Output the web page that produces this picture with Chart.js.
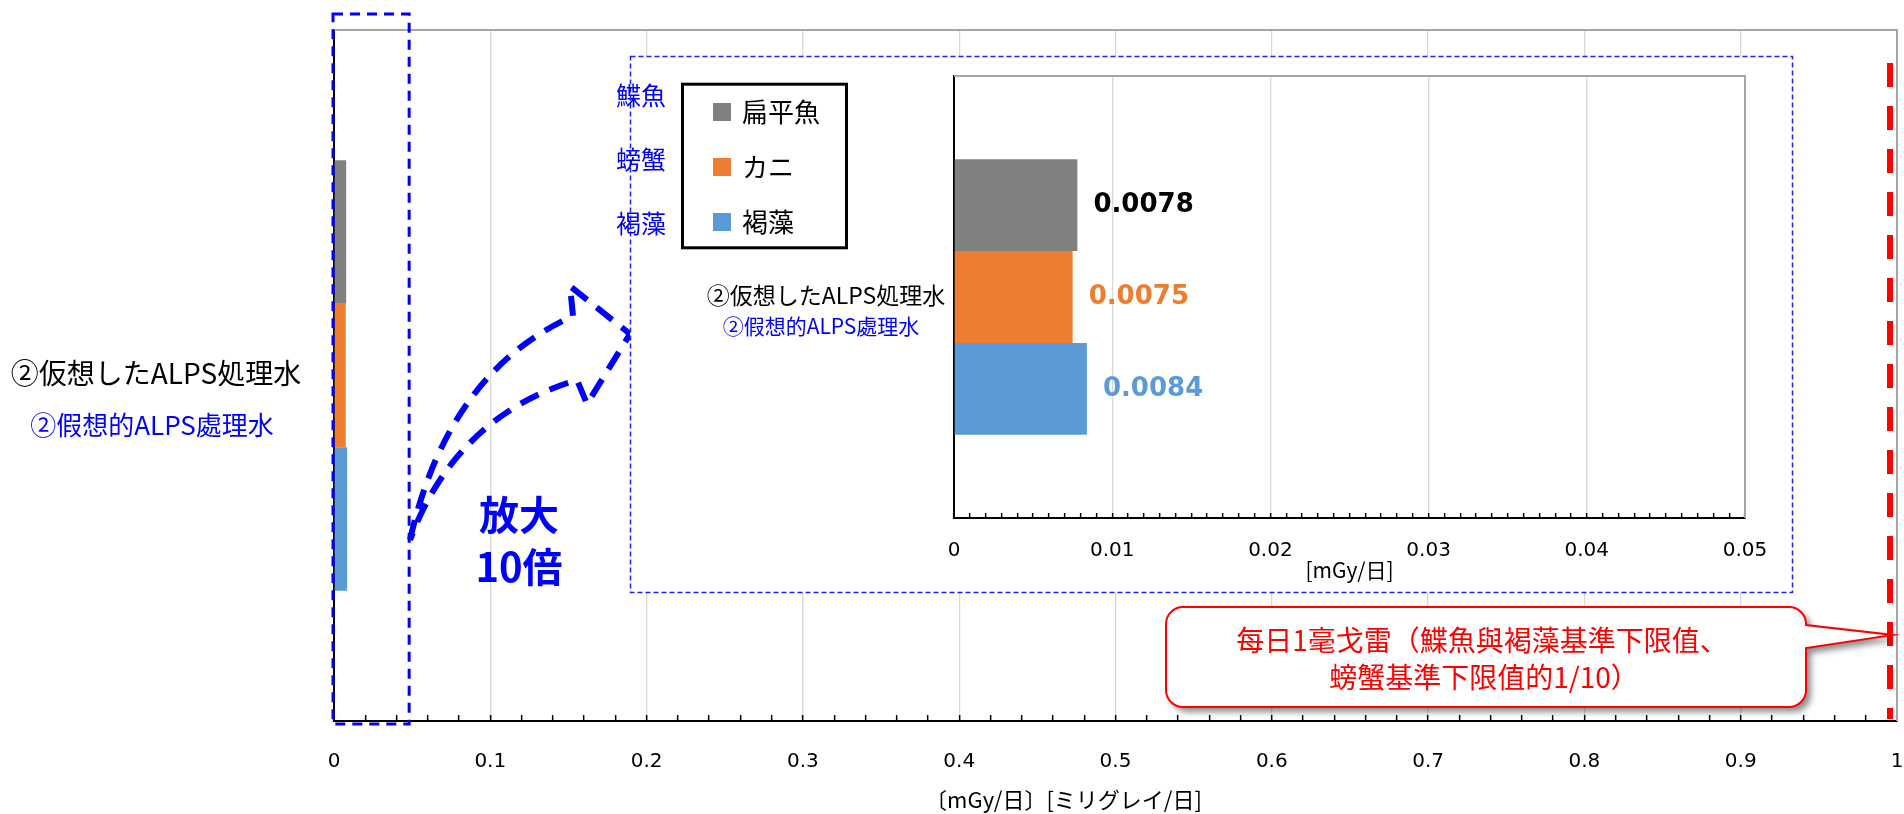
<!DOCTYPE html>
<html lang="ja">
<head>
<meta charset="utf-8">
<title>ALPS処理水 線量</title>
<script src="https://cdn.jsdelivr.net/npm/chart.js@4.4.1/dist/chart.umd.min.js"></script>
<style>
  html, body { margin: 0; padding: 0; background: #fff; }
  #wrap { position: relative; width: 1904px; height: 814px; }
  #main { position: absolute; left: 0; top: 0; }
  #zoom { position: absolute; left: 600px; top: 40px; }
</style>
</head>
<body>
<div id="wrap">
  <canvas id="main" width="1904" height="814"></canvas>
  <canvas id="zoom" width="1200" height="560"></canvas>
</div>
<script>
const categories = ["②仮想したALPS処理水"]
const categoriesZh = ["②假想的ALPS處理水"]
const seriesNames = ["扁平魚", "カニ", "褐藻"]
const seriesNamesZh = ["鰈魚", "螃蟹", "褐藻"]
const seriesColors = ["#808080", "#ED7D31", "#5B9BD5"]
const valueLabelColors = ["#000000", "#ED7D31", "#5B9BD5"]

const flatfishDose = [0.0078]
const crabDose = [0.0075]
const seaweedDose = [0.0084]

const mainTickValues = [0, 0.1, 0.2, 0.3, 0.4, 0.5, 0.6, 0.7, 0.8, 0.9, 1]
const zoomTickValues = [0, 0.01, 0.02, 0.03, 0.04, 0.05]
const doseLimit = 1

const calloutLines = ["每日1毫戈雷（鰈魚與褐藻基準下限值、", "螃蟹基準下限值的1/10）"]

const JP = "'Noto Sans CJK JP', sans-serif"
const TC = "'Noto Sans CJK TC', sans-serif"
const NUM = "'DejaVu Sans', sans-serif"
const BLUE = "#0000FF"

Chart.defaults.font.family = JP

function buildDatasets() {
  return [flatfishDose, crabDose, seaweedDose].map((data, i) => ({
    label: seriesNames[i],
    data,
    backgroundColor: seriesColors[i],
    borderWidth: 0,
  }))
}

function labelFor(value, majors) {
  const hit = majors.find((m) => Math.abs(m - value) < 1e-9)
  return hit === undefined ? "" : String(hit)
}

function axisOptions(majors, step, tickLength, labelPadding, height) {
  return {
    min: majors[0],
    max: majors[majors.length - 1],
    ticks: {
      stepSize: step,
      autoSkip: false,
      maxRotation: 0,
      padding: labelPadding,
      color: "#000",
      font: { family: NUM, size: 20 },
      callback: (v) => labelFor(v, majors),
    },
    grid: {
      color: (c) => (labelFor(c.tick.value, majors) === "" ? "transparent" : "#D9D9D9"),
      lineWidth: 1.3,
      tickLength,
      tickColor: "#000",
      tickWidth: 1.5,
    },
    border: { color: "#000", width: 2 },
    afterFit: (s) => {
      s.height = height
      // the label gap is vertical only, keep it out of the side padding
      s.paddingLeft = 0
      s.paddingRight = 0
    },
  }
}

function categoryAxis(width) {
  return {
    ticks: { display: false },
    grid: { display: false },
    border: { color: "#000", width: 2 },
    afterFit: (s) => {
      s.width = width
    },
  }
}

function drawFrame(ctx, a) {
  ctx.save()
  ctx.strokeStyle = "#A6A6A6"
  ctx.lineWidth = 2
  ctx.beginPath()
  ctx.moveTo(a.left, a.top)
  ctx.lineTo(a.right, a.top)
  ctx.lineTo(a.right, a.bottom)
  ctx.stroke()
  ctx.restore()
}

function drawCallout(ctx) {
  const left = 1166
  const top = 607
  const right = 1806
  const bottom = 707
  const r = 17
  ctx.save()
  ctx.beginPath()
  ctx.moveTo(left + r, top)
  ctx.lineTo(right - r, top)
  ctx.arcTo(right, top, right, top + r, r)
  ctx.lineTo(right, 625)
  ctx.lineTo(1893, 635)
  ctx.lineTo(right, 648)
  ctx.lineTo(right, bottom - r)
  ctx.arcTo(right, bottom, right - r, bottom, r)
  ctx.lineTo(left + r, bottom)
  ctx.arcTo(left, bottom, left, bottom - r, r)
  ctx.lineTo(left, top + r)
  ctx.arcTo(left, top, left + r, top, r)
  ctx.closePath()
  ctx.save()
  ctx.shadowColor = "rgba(0, 0, 0, 0.45)"
  ctx.shadowBlur = 6
  ctx.shadowOffsetX = 5
  ctx.shadowOffsetY = 5
  ctx.fillStyle = "#fff"
  ctx.fill()
  ctx.restore()
  ctx.strokeStyle = "#FF0000"
  ctx.lineWidth = 2
  ctx.stroke()

  ctx.fillStyle = "#FF0000"
  ctx.font = `28px ${TC}`
  ctx.textAlign = "center"
  ctx.textBaseline = "middle"
  ctx.fillText(calloutLines[0], 1482, 640)
  ctx.fillText(calloutLines[1], 1484, 677)
  ctx.restore()
}

// curved dashed arrow from the marked strip to the enlarged panel
function drawZoomArrow(ctx) {
  ctx.save()
  ctx.strokeStyle = BLUE
  ctx.lineWidth = 6
  ctx.setLineDash([20, 12])
  ctx.beginPath()
  ctx.moveTo(410, 540)
  ctx.quadraticCurveTo(448, 372, 573, 316)
  ctx.lineTo(570, 286)
  ctx.lineTo(630, 334)
  ctx.lineTo(587, 404)
  ctx.lineTo(577, 380)
  ctx.quadraticCurveTo(456, 416, 410, 540)
  ctx.stroke()
  ctx.restore()
}

const mainDecor = {
  id: "mainDecor",
  afterDraw(chart) {
    const { ctx, chartArea: a, scales } = chart
    const x = scales.x
    const cy = scales.y.getPixelForTick(0)
    drawFrame(ctx, a)

    ctx.save()
    ctx.textAlign = "center"
    ctx.textBaseline = "middle"
    ctx.fillStyle = "#000"
    ctx.font = `28px ${JP}`
    ctx.fillText(categories[0], 156, cy - 2)
    ctx.fillStyle = BLUE
    ctx.font = `26px ${JP}`
    ctx.fillText(categoriesZh[0], 152, cy + 50)

    ctx.fillStyle = "#000"
    ctx.font = `22px ${JP}`
    ctx.fillText("〔mGy/日〕[ミリグレイ/日]", (a.left + a.right) / 2 - 52, 800)

    // strip that is shown enlarged in the inset
    const zoomRight = x.getPixelForValue(zoomTickValues[zoomTickValues.length - 1]) - 3
    ctx.strokeStyle = BLUE
    ctx.lineWidth = 3
    ctx.setLineDash([10, 7])
    ctx.strokeRect(a.left - 1, 14, zoomRight - a.left + 1, 710)
    ctx.setLineDash([])

    drawZoomArrow(ctx)

    ctx.fillStyle = BLUE
    ctx.font = `bold 40px ${JP}`
    ctx.fillText("放大", 519, 515)
    ctx.fillText("10倍", 519, 567)

    // 1 mGy/day reference line
    const lx = x.getPixelForValue(doseLimit) - 7
    ctx.strokeStyle = "#FF0000"
    ctx.lineWidth = 6
    ctx.setLineDash([24, 19])
    ctx.beginPath()
    ctx.moveTo(lx, 63)
    ctx.lineTo(lx, a.bottom - 2)
    ctx.stroke()
    ctx.setLineDash([])
    ctx.restore()

    drawCallout(ctx)
  },
}

const zoomDecor = {
  id: "zoomDecor",
  beforeDraw(chart) {
    const { ctx } = chart
    ctx.save()
    ctx.fillStyle = "#fff"
    ctx.fillRect(30, 16, 1162, 536)
    ctx.restore()
  },
  afterDraw(chart) {
    const { ctx, chartArea: a, scales } = chart
    drawFrame(ctx, a)

    ctx.save()
    ctx.strokeStyle = "#1f1fff"
    ctx.lineWidth = 1.5
    ctx.setLineDash([5, 3])
    ctx.strokeRect(30.5, 16.5, 1162, 536)
    ctx.setLineDash([])

    // legend
    ctx.strokeStyle = "#000"
    ctx.lineWidth = 3
    ctx.strokeRect(82.5, 44.2, 164, 163.6)
    ctx.textBaseline = "middle"
    ctx.textAlign = "left"
    chart.data.datasets.forEach((ds, i) => {
      const cy = 72 + i * 55
      ctx.fillStyle = ds.backgroundColor
      ctx.fillRect(113, cy - 9, 18, 18)
      ctx.fillStyle = "#000"
      ctx.font = `26px ${JP}`
      ctx.fillText(ds.label, 142, cy)
    })

    ctx.fillStyle = BLUE
    ctx.font = `25px ${TC}`
    seriesNamesZh.forEach((name, i) => {
      ctx.fillText(name, 16, 55 + i * 64)
    })

    const cy = scales.y.getPixelForTick(0)
    ctx.textAlign = "center"
    ctx.fillStyle = "#000"
    ctx.font = `23px ${JP}`
    ctx.fillText(categories[0], 226, cy - 2)
    ctx.fillStyle = BLUE
    ctx.font = `21px ${JP}`
    ctx.fillText(categoriesZh[0], 221, cy + 29)

    // value labels at the end of each bar
    ctx.textAlign = "left"
    ctx.font = `bold 26px ${NUM}`
    chart.data.datasets.forEach((ds, i) => {
      chart.getDatasetMeta(i).data.forEach((bar, j) => {
        ctx.fillStyle = valueLabelColors[i]
        ctx.fillText(ds.data[j].toFixed(4), bar.x + 16, bar.y)
      })
    })
    ctx.restore()
  },
}

const sharedOptions = {
  indexAxis: "y",
  responsive: false,
  animation: false,
  events: [],
  datasets: { bar: { categoryPercentage: 0.623, barPercentage: 1 } },
  plugins: { legend: { display: false }, tooltip: { enabled: false } },
}

new Chart(document.getElementById("main"), {
  type: "bar",
  data: { labels: categories, datasets: buildDatasets() },
  options: {
    ...sharedOptions,
    layout: { padding: { top: 30, right: 7, left: 0, bottom: 0 } },
    scales: {
      x: axisOptions(mainTickValues, 0.02, -6, 35, 93),
      y: categoryAxis(334),
    },
  },
  plugins: [mainDecor],
})

const zoomX = axisOptions(zoomTickValues, 0.001, -5, 26, 82)
zoomX.title = {
  display: true,
  text: "[mGy/日]",
  color: "#000",
  font: { family: JP, size: 21 },
  padding: { top: 0, bottom: 17 },
}

new Chart(document.getElementById("zoom"), {
  type: "bar",
  data: { labels: categories, datasets: buildDatasets() },
  options: {
    ...sharedOptions,
    layout: { padding: { top: 36, right: 55, left: 0, bottom: 0 } },
    scales: {
      x: zoomX,
      y: categoryAxis(354),
    },
  },
  plugins: [zoomDecor],
})
</script>
</body>
</html>
